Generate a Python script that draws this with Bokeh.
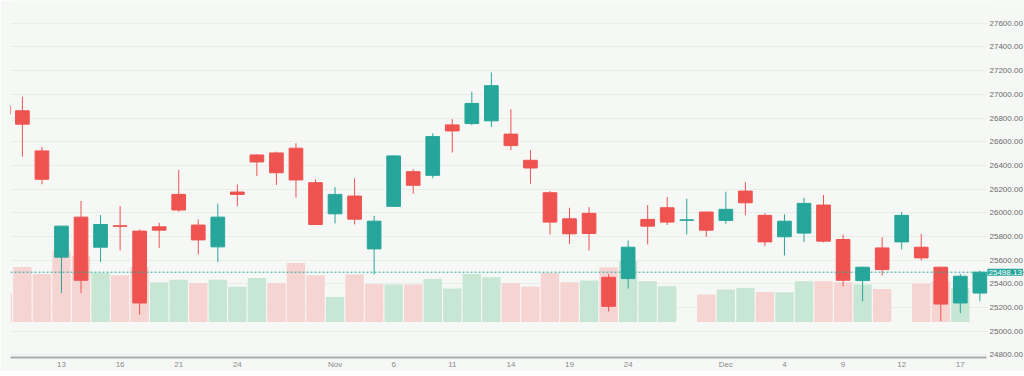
import numpy as np
from bokeh.plotting import figure
from bokeh.models import (Range1d, FixedTicker, NumeralTickFormatter, Span, Label,
                          BoxAnnotation, ColumnDataSource)
from bokeh.embed import file_html
from bokeh.resources import INLINE

# ---- data ----
idx = list(range(-1, 50))
opens = [26903, 26861, 26522, 25625, 25963, 25709, 25890, 25845, 25881, 26155,
         25896, 25712, 26175, 26488, 26505, 26545, 26254, 25991, 26141, 25695,
         26054, 26347, 26316, 26742, 26753, 26776, 26664, 26443, 26169, 25949,
         25995, 25455, 25444, 25944, 26042, 25936, 26006, 25935, 26183, 25978,
         25797, 25828, 26065, 25774, 25427, 25703, 25754, 25709, 25540, 25238,
         25322]
highs = [26920, 26979, 26556, 25890, 26099, 25980, 26056, 25859, 25915, 26361,
         25944, 26076, 26240, 26495, 26516, 26587, 26283, 26217, 26291, 25974,
         26485, 26367, 26669, 26791, 27022, 27185, 26875, 26528, 26183, 26042,
         26048, 25483, 25766, 26065, 26133, 26118, 26010, 26178, 26260, 25995,
         25986, 26127, 26150, 25817, 25545, 25794, 26006, 25822, 25545, 25483,
         25512]
lows = [26800, 26474, 26240, 25322, 25322, 25585, 25681, 25139, 25703, 26008,
        25648, 25585, 26056, 26310, 26234, 26127, 25895, 25910, 25901, 25480,
        26050, 26161, 26291, 26508, 26740, 26725, 26528, 26245, 25817, 25737,
        25681, 25167, 25360, 25732, 25896, 25817, 25797, 25907, 25980, 25718,
        25639, 25752, 25750, 25379, 25252, 25470, 25690, 25597, 25083, 25153,
        25252]
closes = [26835, 26748, 26283, 25887, 25430, 25901, 25885, 25238, 25853, 26023,
          25771, 25963, 26155, 26429, 26338, 26277, 25901, 26155, 25946, 25929,
          26480, 26232, 26643, 26691, 26923, 27073, 26567, 26378, 25921, 25822,
          25825, 25210, 25709, 25887, 25921, 25940, 25853, 26029, 26084, 25754,
          25929, 26079, 25760, 25430, 25540, 25520, 25978, 25619, 25229, 25464,
          25498.13]
volumes = [290, 550, 480, 707, 657, 490, 467, 550, 397, 423,
           390, 423, 353, 440, 390, 590, 467, 250, 474, 380,
           374, 374, 430, 334, 480, 447, 390, 354, 490, 397,
           414, 547, 607, 407, 357, 0, 274, 324, 340, 300,
           297, 407, 407, 397, 374, 330, 0, 384, 407, 340,
           0]

x_ticks = [2, 5, 8, 11, 16, 19, 22, 25, 28, 31, 36, 39, 42, 45, 48]
x_labels = ["13", "16", "21", "24", "Nov", "6", "11", "14", "19", "24",
            "Dec", "4", "9", "12", "17"]
y_ticks = [24800, 25000, 25200, 25400, 25600, 25800, 26000, 26200,
           26400, 26600, 26800, 27000, 27200, 27400, 27600]

# ---- styling ----
BG = "#f6f8f6"
UP = "#26a69a"
DOWN = "#ef5350"
VOL_UP = "#c8e6d4"
VOL_DOWN = "#f6d4d2"
FONT = "Liberation Sans"

o = np.array(opens, float)
c = np.array(closes, float)
up = c >= o
prev = np.concatenate([[np.inf], c[:-1]])
vol_up = c >= prev

src = ColumnDataSource(dict(
    x=idx, open=o, close=c, high=highs, low=lows, vol=volumes,
    top=np.maximum(o, c), bottom=np.minimum(o, c),
    color=[UP if u else DOWN for u in up],
    vcolor=[VOL_UP if u else VOL_DOWN for u in vol_up],
))

# ---- layout calibration (pixels) ----
W, H = 1024, 371
FRAME_L, FRAME_T, FRAME_B = 10.0, 0.0, 356.0
PANE_R = 986.0                # right end of the price pane; price scale sits beyond
BAR0_X, BAR_DX = 21.9, 19.54  # x pixel of bar 0 and bar spacing
PX_PER_200 = 23.62

def price_at(py):
    return 27600 - (py - 22.7) * 200.0 / PX_PER_200

def idx_at(px):
    return (px - BAR0_X) / BAR_DX

y0, y1 = price_at(FRAME_B), price_at(FRAME_T)
x0, x1 = idx_at(FRAME_L), idx_at(W)
x_pane = idx_at(PANE_R)

p = figure(width=W, height=H, output_backend="svg", toolbar_location=None,
           x_range=Range1d(x0, x1), y_range=Range1d(y0, y1),
           y_axis_location="right",
           min_border_left=int(FRAME_L), min_border_top=0, min_border_bottom=0,
           min_border_right=0,
           background_fill_color=BG, border_fill_color=BG, outline_line_color=None)

# volume on its own range, baseline placed low in the pane
vol_base = price_at(320.7)
k = 1.181
p.extra_y_ranges = {"vol": Range1d((y0 - vol_base) * k, (y1 - vol_base) * k)}

# keep the price-scale strip free of grid lines
p.add_layout(BoxAnnotation(left=x_pane, fill_color=BG, fill_alpha=1.0,
                           line_color=None, level="underlay"))

p.vbar(x="x", top="vol", bottom=0, width=0.94, source=src, y_range_name="vol",
       fill_color="vcolor", line_color=None)

p.segment(x0="x", y0="high", x1="x", y1="low", source=src, line_color="color", line_width=1)
p.vbar(x="x", top="top", bottom="bottom", width=0.7, source=src,
       fill_color="color", line_color="color", line_width=1)

last = closes[-1]
p.add_layout(Span(location=last, dimension="width", line_color=UP,
                  line_dash="2 2", line_width=1))

# axes
p.xaxis.ticker = FixedTicker(ticks=x_ticks)
p.xaxis.major_label_overrides = {t: l for t, l in zip(x_ticks, x_labels)}
p.xaxis.bounds = (x0, x_pane)
p.xaxis.axis_line_color = "#a9abad"
p.xaxis.axis_line_width = 2
p.xaxis.major_tick_line_color = None
p.xaxis.minor_tick_line_color = None
p.xaxis.major_tick_out = 0
p.xaxis.major_tick_in = 0
p.xaxis.minor_tick_out = 0
p.xaxis.minor_tick_in = 0
p.xaxis.axis_label_standoff = 0
p.xaxis.major_label_text_font = FONT
p.xaxis.major_label_text_font_size = "8px"
p.xaxis.major_label_text_color = "#8a8a8a"
p.xaxis.major_label_standoff = 2

p.yaxis.fixed_location = x_pane
p.yaxis.ticker = FixedTicker(ticks=y_ticks)
p.yaxis.formatter = NumeralTickFormatter(format="0.00")
p.yaxis.axis_line_color = None
p.yaxis.major_tick_line_color = None
p.yaxis.minor_tick_line_color = None
p.yaxis.major_tick_out = 0
p.yaxis.major_tick_in = 0
p.yaxis.minor_tick_out = 0
p.yaxis.minor_tick_in = 0
p.yaxis.axis_label_standoff = 0
p.yaxis.major_label_text_font = FONT
p.yaxis.major_label_text_font_size = "8px"
p.yaxis.major_label_text_color = "#6a6a6a"
p.yaxis.major_label_standoff = 3

p.xgrid.visible = False
p.ygrid.grid_line_color = "#e9ece9"
p.ygrid.grid_line_width = 1

p.add_layout(Label(x=x_pane, y=last, x_offset=1, text=f"{last:.2f}",
                   text_font=FONT, text_font_size="8px", text_color="white",
                   text_baseline="middle", text_align="left",
                   background_fill_color=UP, background_fill_alpha=1.0, padding=1))

open("out.html", "w").write(file_html(p, INLINE))
